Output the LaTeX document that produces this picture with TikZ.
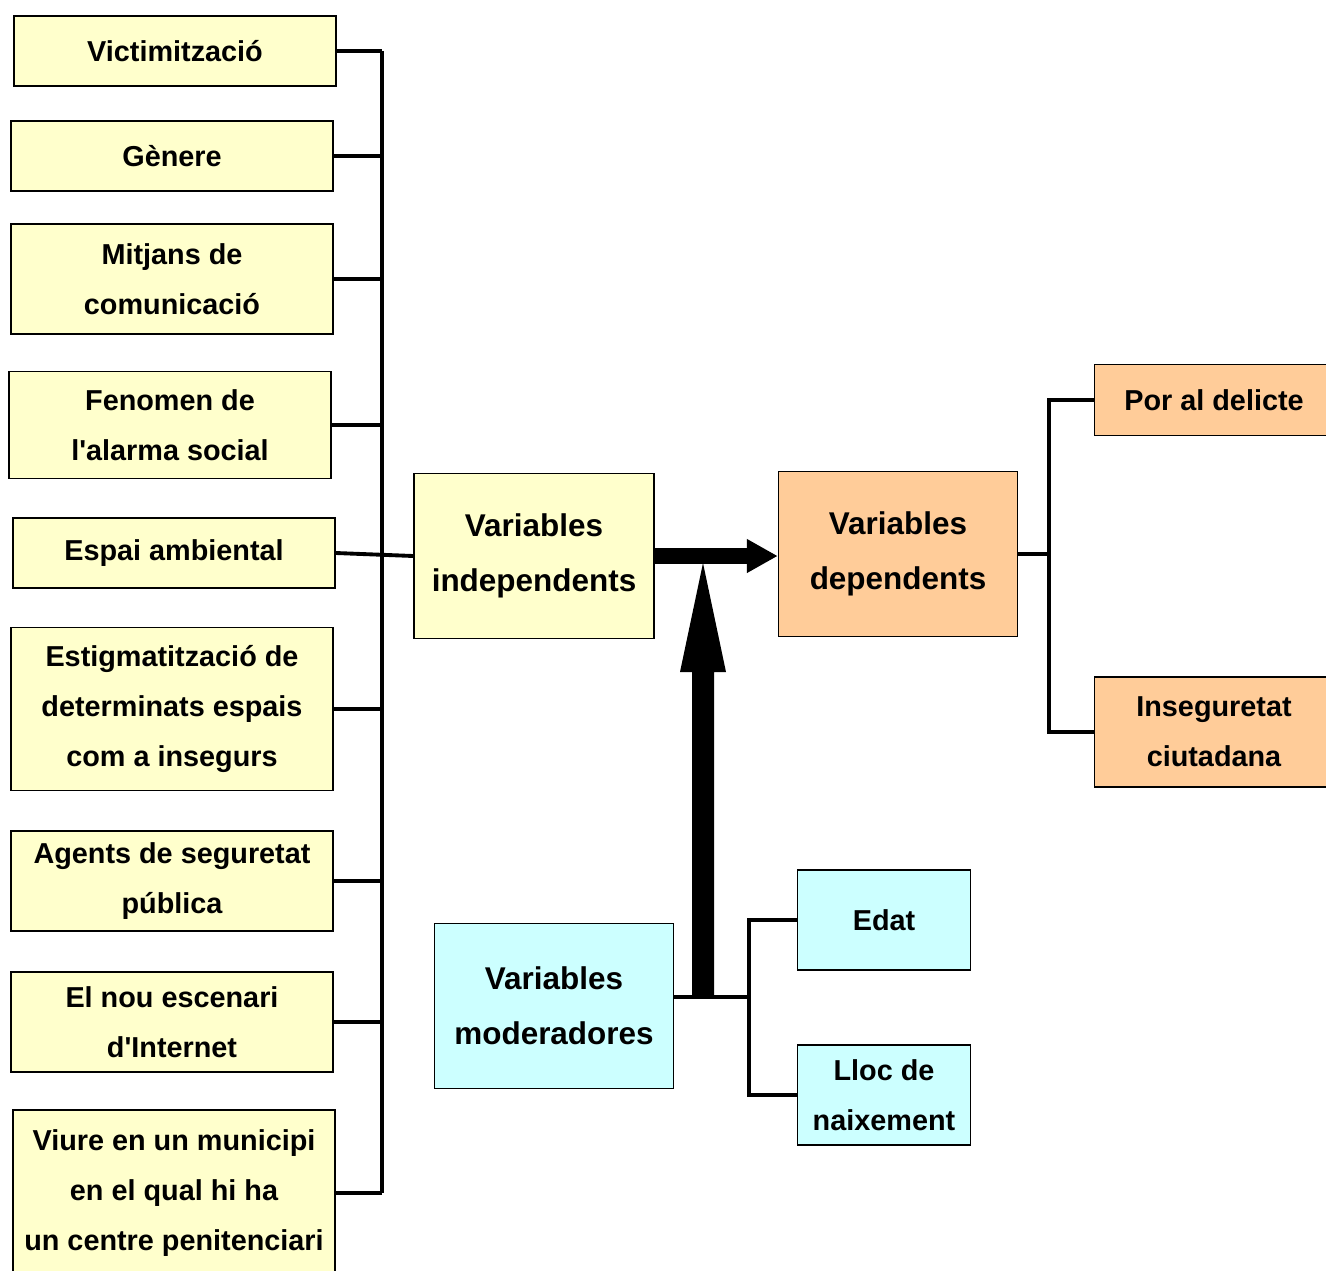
\documentclass[tikz,border=0pt]{standalone}
\usepackage{fontspec}
\setmainfont{Liberation Sans}
\usepackage{tikz}
\usetikzlibrary{positioning, calc, arrows.meta}
\definecolor{ylw}{HTML}{FFFFCC}
\definecolor{orng}{HTML}{FFCC99}
\definecolor{cyn}{HTML}{CCFFFF}

\begin{document}
\begin{tikzpicture}[x=0.02cm, y=-0.02cm,
	box/.style={draw, line width=0.85pt, inner sep=0pt, align=center, font=\bfseries\fontsize{16.4}{28.3}\selectfont},
	lbox/.style={box, fill=ylw, minimum width=6.44cm},
	bigbox/.style={box, minimum width=4.78cm, minimum height=3.3cm, font=\bfseries\fontsize{17.9}{31.2}\selectfont},
	conn/.style={line width=2.2pt}]
\clip (0,0) rectangle (1326,1271);
% left column
\node[lbox, minimum height=1.4cm] (vict) at (175,51) {Victimització};
\node[lbox, minimum height=1.4cm] (gen) at (172,156) {Gènere};
\node[lbox, minimum height=2.2cm] (mitj) at (172,279) {Mitjans de\\comunicació};
\node[lbox, minimum height=2.14cm] (fen) at (170,425) {Fenomen de\\l\textquotesingle alarma social};
\node[lbox, minimum height=1.4cm] (espai) at (174,553) {Espai ambiental};
\node[lbox, minimum height=3.26cm] (estig) at (172,709) {Estigmatització de\\determinats espais\\com a insegurs};
\node[lbox, minimum height=2cm] (agents) at (172,881) {Agents de seguretat\\pública};
\node[lbox, minimum height=2cm] (nou) at (172,1022) {El nou escenari\\d\textquotesingle Internet};
\node[lbox, minimum height=3.32cm] (viure) at (174,1193) {Viure en un municipi\\en el qual hi ha\\un centre penitenciari};
% centre
\node[bigbox, fill=ylw, minimum width=4.8cm] (indep) at (534,556) {Variables\\independents};
\node[bigbox, fill=orng] (dep) at (898,554) {Variables\\dependents};
\node[bigbox, fill=cyn] (mod) at (554,1006) {Variables\\moderadores};
% right
\node[box, fill=orng, minimum width=4.78cm, minimum height=1.42cm] (por) at (1214,400) {Por al delicte};
\node[box, fill=orng, minimum width=4.78cm, minimum height=2.2cm] (inseg) at (1214,732) {Inseguretat\\ciutadana};
\node[box, fill=cyn, minimum width=3.46cm, minimum height=2cm] (edat) at (884,920) {Edat};
\node[box, fill=cyn, minimum width=3.46cm, minimum height=2cm] (lloc) at (884,1095) {Lloc de\\naixement};

% brackets
\coordinate (bus) at (382,0);
\coordinate (rb) at (1049,0);
\coordinate (mb) at (749,0);
\coordinate (tip) at (703,563);
\coordinate (modout) at ($(mod.east)+(0,-9)$);
\draw[conn] (vict.east -| bus) -- (viure.east -| bus);
\foreach \n in {vict, gen, mitj, fen, estig, agents, nou, viure}
	\draw[conn] (\n.east) -- (\n.east -| bus);
\draw[conn] (espai.east) -- (indep.west);
\draw[conn] (dep.east) -- (dep.east -| rb);
\draw[conn] (por.west) -- (por.west -| rb) -- (inseg.west -| rb) -- (inseg.west);
\draw[conn] (modout) -- (modout -| mb);
\draw[conn] (edat.west) -- (edat.west -| mb) -- (lloc.west -| mb) -- (lloc.west);

% block arrows
\fill ($(modout -| tip)+(-11,0)$) -- ($(tip)+(-11,109)$) -- ($(tip)+(-23,109)$) -- (tip)
	-- ($(tip)+(23,109)$) -- ($(tip)+(11,109)$) -- ($(modout -| tip)+(11,0)$) -- cycle;
\draw[line width=9.6pt, -{Triangle[length=17.6pt, width=18.1pt]}] (indep.east) -- (indep.east -| dep.west);
\end{tikzpicture}
\end{document}
